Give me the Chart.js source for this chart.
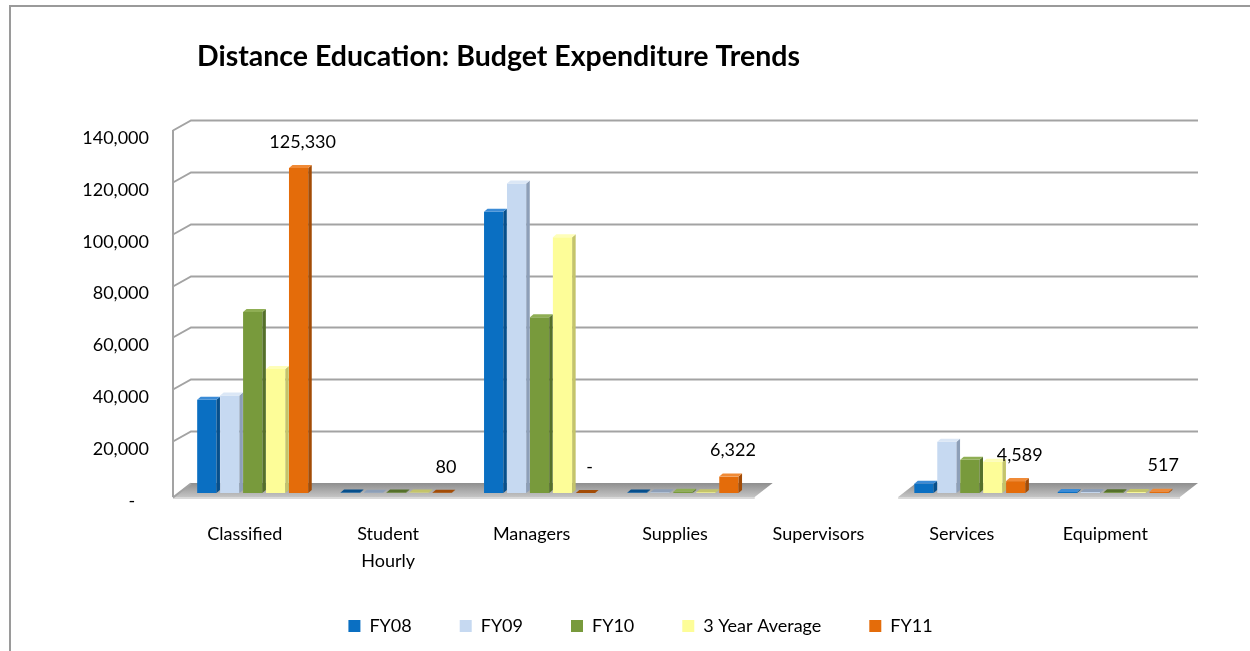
<!DOCTYPE html>
<html>
<head>
<meta charset="utf-8">
<script src="https://cdn.jsdelivr.net/npm/chart.js@4/dist/chart.umd.min.js"></script>
<style>
html, body { margin: 0; padding: 0; background: #fff; overflow: hidden; }
#caja { width: 1250px; height: 651px; }
</style>
</head>
<body>
<div id="caja"><canvas id="graficaPresupuesto" width="1250" height="651"></canvas></div>
<script>
var titulo = "Distance Education: Budget Expenditure Trends";

var categorias = [
    'Classified',
    ['Student', 'Hourly'],
    'Managers',
    'Supplies',
    'Supervisors',
    'Services',
    'Equipment'
];

var nombresSeries = ['FY08', 'FY09', 'FY10', '3 Year Average', 'FY11'];

var fy08 = [36000, 150, 108500, 200, null, 3600, 400];
var fy09 = [37600, 120, 119400, 250, null, 19800, 350];
var fy10 = [69800, 200, 67800, 500, null, 12800, 300];
var promedio = [47800, 160, 98600, 320, null, 12100, 350];
var fy11 = [125330, 80, 0, 6322, null, 4589, 517];

var marcasEjeY = [0, 20000, 40000, 60000, 80000, 100000, 120000, 140000];

var colores = ['#0a6fc2', '#c6d9f1', '#789a3c', '#fdfd98', '#e46c0a'];
var coloresLado = ['#064f8c', '#8d9fb8', '#55702a', '#c4c46a', '#a34c06'];
var coloresTapa = ['#3b8bd6', '#dbe7f6', '#8fae54', '#fefeb9', '#f08a36'];

var fuente = 'Lato, "Open Sans", sans-serif';

// profundidad de las barras y de las paredes
var barraDX = 3.5, barraDY = -3;
var paredDX = 18, paredDY = -10;

function formatoNumero(v) {
    if (v === 0) return '-';
    return v.toLocaleString('en-US');
}

var pluginParedes = {
    id: 'paredes',
    afterLayout: function (chart) {
        // la leyenda va algo corrida a la derecha, como en el original
        chart.legend.left += 48;
        chart.legend.right += 48;
    },
    beforeDraw: function (chart) {
        var ctx = chart.ctx;
        ctx.save();
        ctx.strokeStyle = '#9a9a9a';
        ctx.lineWidth = 2;
        ctx.strokeRect(10, 6, 1400, 800);
        // titulo
        ctx.fillStyle = '#000';
        ctx.font = 'bold 28.5px ' + fuente;
        ctx.textBaseline = 'middle';
        ctx.textAlign = 'left';
        ctx.fillText(titulo, 197, 57);
        ctx.restore();
    },
    beforeDatasetsDraw: function (chart) {
        var ctx = chart.ctx;
        var area = chart.chartArea;
        var y = chart.scales.y;
        var izq = area.left - 8;
        var der = area.right - 5;
        ctx.save();

        // piso, por tramos donde hay datos
        var piso = function (a, b) {
            var g = ctx.createLinearGradient(0, area.bottom + paredDY, 0, area.bottom + 4);
            g.addColorStop(0, '#8e8e8e');
            g.addColorStop(1, '#c4c4c4');
            ctx.fillStyle = g;
            ctx.beginPath();
            ctx.moveTo(a, area.bottom + 4);
            ctx.lineTo(b, area.bottom + 4);
            ctx.lineTo(b + paredDX, area.bottom + paredDY);
            ctx.lineTo(a + paredDX, area.bottom + paredDY);
            ctx.closePath();
            ctx.fill();
            ctx.fillStyle = '#d9d9d9';
            ctx.fillRect(a, area.bottom + 4, b - a, 2);
        };
        var ancho = (area.right - area.left) / categorias.length;
        var inicio = null;
        for (var i = 0; i <= categorias.length; i++) {
            var vacia = i === categorias.length || chart.data.datasets.every(function (d) { return d.data[i] === null; });
            var a = i === 0 ? izq : area.left + ancho * i;
            if (!vacia && inicio === null) inicio = a;
            if (vacia && inicio !== null) {
                piso(inicio, i === categorias.length ? der : a);
                inicio = null;
            }
        }

        // lineas de la pared del fondo
        ctx.strokeStyle = '#a3a3a3';
        ctx.lineWidth = 2;
        marcasEjeY.forEach(function (v) {
            var py = Math.round(y.getPixelForValue(v)) + 0.5;
            ctx.beginPath();
            ctx.moveTo(izq, py + 4 * (v === 0 ? 1 : 0));
            ctx.lineTo(izq + paredDX, py + paredDY);
            if (v !== 0) ctx.lineTo(der + paredDX, py + paredDY);
            ctx.stroke();
        });
        // pared izquierda
        ctx.beginPath();
        ctx.moveTo(izq, y.getPixelForValue(140000));
        ctx.lineTo(izq, area.bottom + 4);
        ctx.stroke();
        ctx.restore();
    },
    afterDatasetDraw: function (chart, args) {
        var ctx = chart.ctx;
        var k = args.index;
        var meta = args.meta;
        ctx.save();
        meta.data.forEach(function (el, i) {
            if (chart.data.datasets[k].data[i] === null) return;
            var p = el.getProps(['x', 'y', 'base', 'width'], true);
            var l = p.x - p.width / 2, r = p.x + p.width / 2;
            ctx.fillStyle = coloresLado[k];
            ctx.beginPath();
            ctx.moveTo(r, p.y);
            ctx.lineTo(r + barraDX, p.y + barraDY);
            ctx.lineTo(r + barraDX, p.base + barraDY);
            ctx.lineTo(r, p.base);
            ctx.closePath();
            ctx.fill();
            ctx.fillStyle = p.base - p.y < 1 ? coloresLado[k] : coloresTapa[k];
            ctx.beginPath();
            ctx.moveTo(l, p.y);
            ctx.lineTo(r, p.y);
            ctx.lineTo(r + barraDX, p.y + barraDY);
            ctx.lineTo(l + barraDX, p.y + barraDY);
            ctx.closePath();
            ctx.fill();
        });
        ctx.restore();
    },
    afterDatasetsDraw: function (chart) {
        var ctx = chart.ctx;
        var meta = chart.getDatasetMeta(4);
        ctx.save();
        ctx.fillStyle = '#000';
        ctx.font = '18px ' + fuente;
        ctx.textAlign = 'center';
        ctx.textBaseline = 'middle';
        meta.data.forEach(function (el, i) {
            var v = fy11[i];
            if (v === null) return;
            ctx.fillText(formatoNumero(v), el.x + 4, el.y - 26);
        });
        ctx.restore();
    }
};

var series = [fy08, fy09, fy10, promedio, fy11];

var datosGrafica = {
    labels: categorias,
    datasets: series.map(function (s, k) {
        return {
            label: nombresSeries[k],
            data: s,
            backgroundColor: colores[k],
            borderWidth: 0,
            categoryPercentage: 0.8,
            barPercentage: 0.84
        };
    })
};

var configuracion = {
    type: 'bar',
    data: datosGrafica,
    plugins: [pluginParedes],
    options: {
        responsive: false,
        animation: false,
        layout: { padding: { top: 130, right: 65, bottom: 6, left: 0 } },
        scales: {
            x: {
                afterFit: function (s) { s.height = 76; },
                grid: { display: false, drawTicks: false },
                border: { display: false },
                ticks: { color: '#000', font: { family: fuente, size: 18, lineHeight: 1.5 }, padding: 28, labelOffset: -8, maxRotation: 0 }
            },
            y: {
                min: 0,
                max: 140000,
                afterFit: function (s) { s.width = 181; },
                grid: { display: false, drawTicks: false },
                border: { display: false },
                ticks: {
                    stepSize: 20000,
                    color: '#000',
                    font: { family: fuente, size: 18 },
                    padding: 32,
                    labelOffset: 8,
                    callback: function (v) { return v === 0 ? '-   ' : formatoNumero(v); }
                }
            }
        },
        plugins: {
            title: { display: false },
            tooltip: { enabled: false },
            legend: {
                position: 'bottom',
                labels: {
                    color: '#000',
                    font: { family: fuente, size: 18 },
                    boxWidth: 12,
                    boxHeight: 12,
                    padding: 48
                }
            }
        }
    }
};

var graficaPresupuesto = new Chart(
    document.getElementById('graficaPresupuesto'),
    configuracion
);
</script>
</body>
</html>
